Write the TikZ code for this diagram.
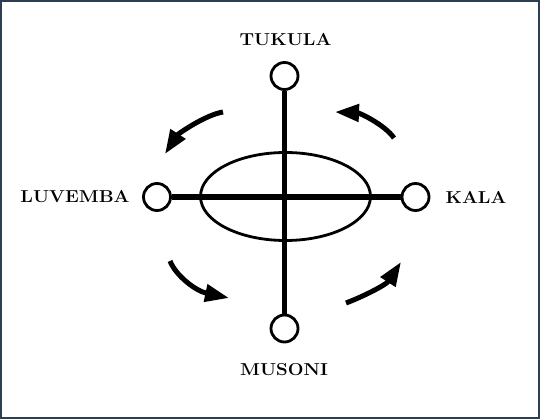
\documentclass[tikz,border=0pt]{standalone}
\usetikzlibrary{arrows.meta,shapes.geometric}
\definecolor{framecol}{RGB}{44,62,80}
\newcommand{\widecaps}[1]{\scalebox{1.08}[1]{\fontsize{17.28pt}{21pt}\selectfont\bfseries #1}}
\tikzset{
  port/.style={circle,draw,line width=2.8pt,fill=white,minimum size=27pt,inner sep=0pt},
  lbl/.style={inner sep=0pt},
  bar/.style={line width=5.5pt},
  turn/.style={line width=5pt,-{Triangle[length=24pt,width=17pt]}}
}
\begin{document}
\begin{tikzpicture}[x=1pt,y=-1pt]
\useasboundingbox (0,0) rectangle (540,419);
\fill[white] (0,0) rectangle (540,419);
\draw[framecol,line width=1.6pt] (0.8,0.8) rectangle (539.2,418.2);
\node[ellipse,draw,line width=2.8pt,minimum width=170pt,minimum height=88pt,inner sep=0pt] (oval) at (285.5,196.5) {};
\node[port] (top) at (284.5,76) {};
\node[port] (bot) at (284.5,328.5) {};
\node[port] (lft) at (157,197) {};
\node[port] (rgt) at (415.5,197) {};
\draw[bar] (top) -- (bot);
\draw[bar] (lft) -- (rgt);
\node[lbl] (tukula) at (285.5,40) {\widecaps{TUKULA}};
\node[lbl] (musoni) at (284,369.5) {\widecaps{MUSONI}};
\node[lbl] (luvemba) at (75,197) {\widecaps{LUVEMBA}};
\node[lbl] (kala) at (476,197) {\widecaps{KALA}};
\coordinate (a1) at (223,112);
\coordinate (a2) at (165,154);
\coordinate (b1) at (394,138);
\coordinate (b2) at (335,112);
\coordinate (c1) at (170,261);
\coordinate (c2) at (229,298);
\coordinate (d1) at (346,303);
\coordinate (d2) at (401,262);
\draw[turn] (a1) .. controls (205,115) and (178,134) .. (a2);
\draw[turn] (b1) .. controls (385,125) and (360,113) .. (b2);
\draw[turn] (c1) .. controls (176,276) and (196,291) .. (c2);
\draw[turn] (d1) .. controls (362,297) and (386,285) .. (d2);
\end{tikzpicture}
\end{document}
